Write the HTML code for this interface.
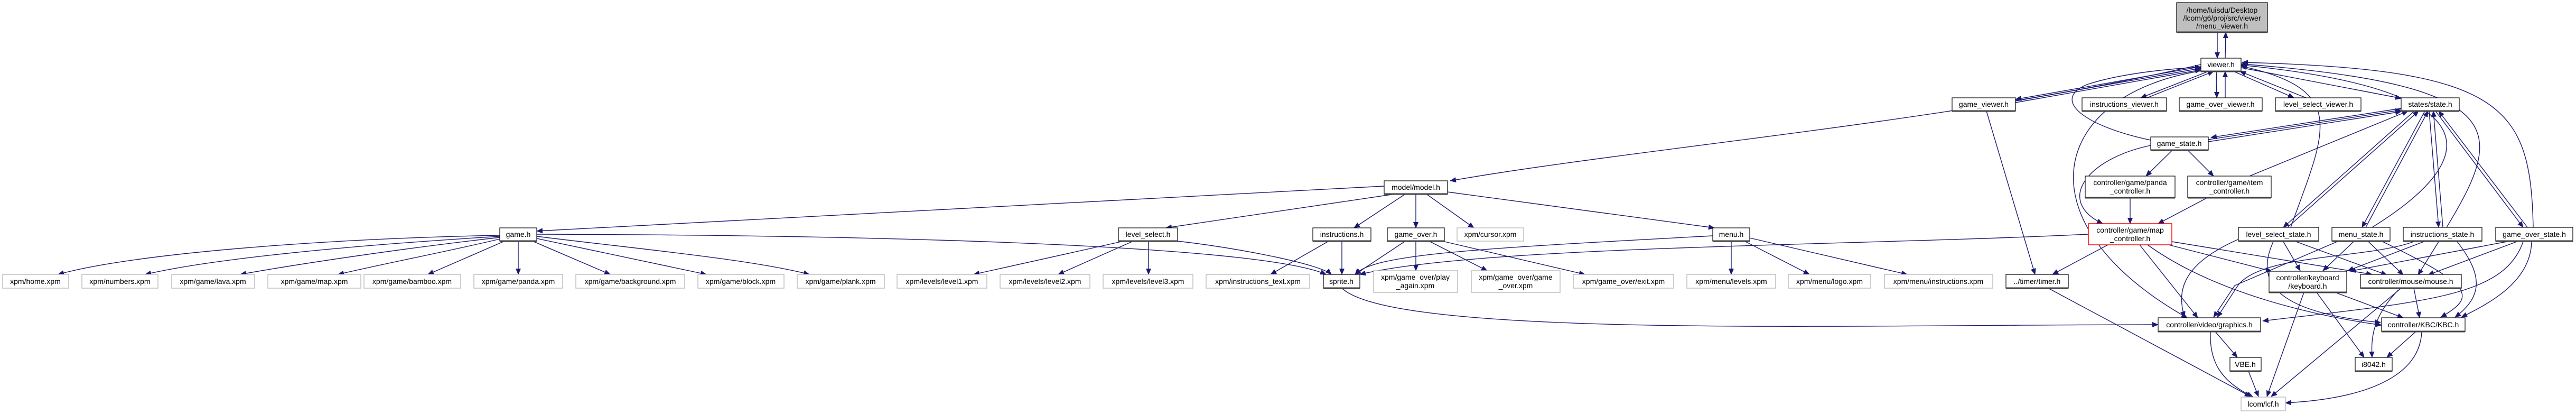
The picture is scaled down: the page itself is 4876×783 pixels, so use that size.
<!DOCTYPE html>
<html><head><meta charset="utf-8"><style>
html,body{margin:0;padding:0;background:#fff;}
svg{display:block;}
text{font-family:"Liberation Sans",sans-serif;font-size:14px;fill:#000;text-anchor:middle;}
.e{fill:none;stroke:#191970;stroke-width:1.4;marker-end:url(#a);}
.n{fill:#fff;stroke:#000;stroke-width:1.2;}
.g{fill:#fff;stroke:#bfbfbf;stroke-width:1.5;}
.r{fill:#fff;stroke:#ff0000;stroke-width:1.5;}
.s{stroke:#404040;stroke-width:3;}
</style></head><body>
<svg width="4876" height="783" viewBox="0 0 4876 783" xmlns="http://www.w3.org/2000/svg">
<defs><marker id="a" markerWidth="12" markerHeight="10" refX="11" refY="5" orient="auto" markerUnits="userSpaceOnUse"><path d="M0,0 L12,5 L0,10 z" fill="#191970"/></marker></defs>

<!-- edges -->
<path class="e" d="M4197,61 L4197,110"/>
<path class="e" d="M4212,110 L4213,61"/>
<path class="e" d="M4166,126 L3815,188"/>
<path class="e" d="M3815,191 L4166,129"/>
<path class="e" d="M3815,194 L4166,132"/>
<path class="e" d="M4180,135 L4052,185"/>
<path class="e" d="M4064,185 L4190,135"/>
<path class="e" d="M4196,135 C4194,160 4196,170 4196,185"/>
<path class="e" d="M4212,185 L4212,135"/>
<path class="e" d="M4228,135 L4342,185"/>
<path class="e" d="M4365,185 L4240,135"/>
<path class="e" d="M4242,128 L4545,186"/>
<path class="e" d="M4166,122 C3700,230 3100,280 2745,342"/>
<path class="e" d="M4545,205 L4185,260"/>
<path class="e" d="M4180,264 L4545,208"/>
<path class="e" d="M4180,268 L4545,211"/>
<path class="e" d="M4071,265 C3950,240 3880,190 3950,160 C4010,140 4100,130 4166,127"/>
<path class="e" d="M4112,284 L4062,333"/>
<path class="e" d="M4141,284 L4190,333"/>
<path class="e" d="M4071,275 C3950,300 3890,380 3980,423"/>
<path class="e" d="M4258,333 L4558,210"/>
<path class="e" d="M4032,374 L4032,423"/>
<path class="e" d="M4178,374 L4085,423"/>
<path class="e" d="M3760,210 L3852,519"/>
<path class="e" d="M4166,134 C3880,180 3820,420 4140,601"/>
<path class="e" d="M3953,443 C3500,465 2800,465 2574,519"/>
<path class="e" d="M3990,463 L3885,519"/>
<path class="e" d="M4050,463 L4160,601"/>
<path class="e" d="M4065,463 C4200,560 4400,600 4508,615"/>
<path class="e" d="M4105,463 L4300,513"/>
<path class="e" d="M4111,457 L4490,519"/>
<!-- states -->
<path class="e" d="M4570,210 L4322,430"/>
<path class="e" d="M4330,430 L4578,210"/>
<path class="e" d="M4336,430 C4400,250 4450,170 4242,125"/>
<path class="e" d="M4590,210 L4471,430"/>
<path class="e" d="M4478,430 L4596,210"/>
<path class="e" d="M4490,430 C4700,300 4720,170 4242,123"/>
<path class="e" d="M4598,210 L4616,430"/>
<path class="e" d="M4624,430 L4606,210"/>
<path class="e" d="M4631,430 C4740,250 4760,160 4242,121"/>
<path class="e" d="M4610,210 L4776,430"/>
<path class="e" d="M4784,430 L4616,210"/>
<path class="e" d="M4795,430 C4790,200 4740,130 4244,118"/>
<path class="e" d="M4236,453 C4130,500 4120,550 4135,600"/>
<path class="e" d="M4322,457 L4354,512"/>
<path class="e" d="M4346,457 L4518,520"/>
<path class="e" d="M4303,457 C4270,530 4300,590 4506,610"/>
<path class="e" d="M4424,457 L4230,540 L4190,600"/>
<path class="e" d="M4455,457 L4397,512"/>
<path class="e" d="M4483,457 L4549,520"/>
<path class="e" d="M4510,457 C4680,540 4690,560 4620,600"/>
<path class="e" d="M4569,457 C4480,490 4280,480 4236,540 L4197,600"/>
<path class="e" d="M4588,457 L4444,512"/>
<path class="e" d="M4616,457 L4577,520"/>
<path class="e" d="M4651,457 C4700,520 4700,560 4647,600"/>
<path class="e" d="M4776,457 C4740,560 4600,570 4283,607"/>
<path class="e" d="M4745,457 L4448,513"/>
<path class="e" d="M4764,457 L4596,520"/>
<path class="e" d="M4792,457 C4790,530 4720,570 4659,600"/>
<!-- lower -->
<path class="e" d="M4361,553 L4291,750"/>
<path class="e" d="M4385,553 L4475,676"/>
<path class="e" d="M4420,553 L4549,601"/>
<path class="e" d="M4545,545 L4299,750"/>
<path class="e" d="M4540,548 C4490,600 4488,640 4490,676"/>
<path class="e" d="M4569,545 L4580,601"/>
<path class="e" d="M4193,627 L4235,676"/>
<path class="e" d="M4184,627 C4182,680 4200,720 4264,750"/>
<path class="e" d="M4256,702 L4275,750"/>
<path class="e" d="M4573,627 L4518,676"/>
<path class="e" d="M4584,627 C4580,720 4460,755 4326,762"/>
<path class="e" d="M3877,545 L4260,750"/>
<path class="e" d="M2540,545 C2640,640 3500,614 4085,614"/>
<!-- model -->
<path class="e" d="M2620,352 L1016,437"/>
<path class="e" d="M2640,367 L2207,431"/>
<path class="e" d="M2660,367 L2563,431"/>
<path class="e" d="M2680,367 L2680,431"/>
<path class="e" d="M2700,367 L2790,431"/>
<path class="e" d="M2740,363 L3245,431"/>
<!-- game.h -->
<path class="e" d="M946,445 C600,452 250,480 110,519"/>
<path class="e" d="M946,447 C650,465 400,490 275,519"/>
<path class="e" d="M946,449 C760,470 560,500 455,519"/>
<path class="e" d="M946,452 C850,475 720,500 640,519"/>
<path class="e" d="M955,456 L810,519"/>
<path class="e" d="M981,456 L981,519"/>
<path class="e" d="M1008,456 L1155,519"/>
<path class="e" d="M1016,451 L1337,519"/>
<path class="e" d="M1016,447 C1200,470 1420,490 1532,519"/>
<path class="e" d="M1016,443 C1800,445 2400,470 2510,519"/>
<path class="e" d="M2127,456 L1843,519"/>
<path class="e" d="M2145,456 L2003,519"/>
<path class="e" d="M2174,456 L2174,519"/>
<path class="e" d="M2229,456 C2350,470 2500,500 2520,519"/>
<path class="e" d="M2515,456 L2405,519"/>
<path class="e" d="M2540,456 L2540,519"/>
<path class="e" d="M2660,456 L2565,519"/>
<path class="e" d="M2680,456 L2680,512"/>
<path class="e" d="M2705,456 L2815,512"/>
<path class="e" d="M2730,456 L3000,519"/>
<path class="e" d="M3242,446 C2800,470 2600,480 2565,519"/>
<path class="e" d="M3277,456 L3277,519"/>
<path class="e" d="M3302,456 L3425,519"/>
<path class="e" d="M3312,450 L3610,519"/>

<!-- nodes -->
<rect x="4120" y="5" width="172" height="56" fill="#bfbfbf" stroke="#000" stroke-width="1.2"/><line class="s" x1="4120" y1="61" x2="4292" y2="61"/>
<text x="4206" y="24">/home/luisdu/Desktop</text><text x="4206" y="39">/lcom/g6/proj/src/viewer</text><text x="4206" y="54">/menu_viewer.h</text>

<rect class="n" x="4166" y="110" width="76" height="25"/><line class="s" x1="4166" y1="135" x2="4242" y2="135"/><text x="4204" y="127">viewer.h</text>
<rect class="n" x="3695" y="185" width="120" height="25"/><line class="s" x1="3695" y1="210" x2="3815" y2="210"/><text x="3755" y="202">game_viewer.h</text>
<rect class="n" x="3941" y="185" width="160" height="25"/><line class="s" x1="3941" y1="210" x2="4101" y2="210"/><text x="4021" y="202">instructions_viewer.h</text>
<rect class="n" x="4125" y="185" width="157" height="25"/><line class="s" x1="4125" y1="210" x2="4282" y2="210"/><text x="4203" y="202">game_over_viewer.h</text>
<rect class="n" x="4307" y="185" width="162" height="25"/><line class="s" x1="4307" y1="210" x2="4469" y2="210"/><text x="4388" y="202">level_select_viewer.h</text>
<rect class="n" x="4545" y="185" width="110" height="25"/><line class="s" x1="4545" y1="210" x2="4655" y2="210"/><text x="4600" y="202">states/state.h</text>
<rect class="n" x="4071" y="259" width="109" height="25"/><line class="s" x1="4071" y1="284" x2="4180" y2="284"/><text x="4125" y="276">game_state.h</text>
<rect class="n" x="3947" y="333" width="170" height="41"/><line class="s" x1="3947" y1="374" x2="4117" y2="374"/><text x="4032" y="350">controller/game/panda</text><text x="4032" y="366">_controller.h</text>
<rect class="n" x="4141" y="333" width="158" height="41"/><line class="s" x1="4141" y1="374" x2="4299" y2="374"/><text x="4220" y="350">controller/game/item</text><text x="4220" y="366">_controller.h</text>
<rect class="r" x="3953" y="423" width="158" height="40"/><text x="4032" y="440">controller/game/map</text><text x="4032" y="456">_controller.h</text>
<rect class="n" x="4237" y="430" width="152" height="26"/><line class="s" x1="4237" y1="456" x2="4389" y2="456"/><text x="4313" y="448">level_select_state.h</text>
<rect class="n" x="4414" y="430" width="110" height="26"/><line class="s" x1="4414" y1="456" x2="4524" y2="456"/><text x="4469" y="448">menu_state.h</text>
<rect class="n" x="4549" y="430" width="149" height="26"/><line class="s" x1="4549" y1="456" x2="4698" y2="456"/><text x="4623" y="448">instructions_state.h</text>
<rect class="n" x="4724" y="430" width="146" height="26"/><line class="s" x1="4724" y1="456" x2="4870" y2="456"/><text x="4797" y="448">game_over_state.h</text>

<rect class="n" x="2620" y="342" width="120" height="25"/><line class="s" x1="2620" y1="367" x2="2740" y2="367"/><text x="2680" y="359">model/model.h</text>
<rect class="n" x="946" y="431" width="70" height="25"/><line class="s" x1="946" y1="456" x2="1016" y2="456"/><text x="981" y="448">game.h</text>
<rect class="n" x="2117" y="431" width="112" height="25"/><line class="s" x1="2117" y1="456" x2="2229" y2="456"/><text x="2173" y="448">level_select.h</text>
<rect class="n" x="2485" y="431" width="110" height="25"/><line class="s" x1="2485" y1="456" x2="2595" y2="456"/><text x="2540" y="448">instructions.h</text>
<rect class="n" x="2626" y="431" width="108" height="25"/><line class="s" x1="2626" y1="456" x2="2734" y2="456"/><text x="2680" y="448">game_over.h</text>
<rect class="g" x="2758" y="431" width="126" height="25"/><text x="2821" y="448">xpm/cursor.xpm</text>
<rect class="n" x="3242" y="431" width="70" height="25"/><line class="s" x1="3242" y1="456" x2="3312" y2="456"/><text x="3277" y="448">menu.h</text>

<rect class="g" x="5" y="519" width="125" height="26"/><text x="67" y="537">xpm/home.xpm</text>
<rect class="g" x="155" y="519" width="144" height="26"/><text x="227" y="537">xpm/numbers.xpm</text>
<rect class="g" x="325" y="519" width="157" height="26"/><text x="403" y="537">xpm/game/lava.xpm</text>
<rect class="g" x="507" y="519" width="176" height="26"/><text x="595" y="537">xpm/game/map.xpm</text>
<rect class="g" x="689" y="519" width="183" height="26"/><text x="780" y="537">xpm/game/bamboo.xpm</text>
<rect class="g" x="897" y="519" width="168" height="26"/><text x="981" y="537">xpm/game/panda.xpm</text>
<rect class="g" x="1090" y="519" width="206" height="26"/><text x="1193" y="537">xpm/game/background.xpm</text>
<rect class="g" x="1321" y="519" width="163" height="26"/><text x="1402" y="537">xpm/game/block.xpm</text>
<rect class="g" x="1509" y="519" width="165" height="26"/><text x="1591" y="537">xpm/game/plank.xpm</text>
<rect class="g" x="1698" y="519" width="170" height="26"/><text x="1783" y="537">xpm/levels/level1.xpm</text>
<rect class="g" x="1893" y="519" width="170" height="26"/><text x="1978" y="537">xpm/levels/level2.xpm</text>
<rect class="g" x="2088" y="519" width="170" height="26"/><text x="2173" y="537">xpm/levels/level3.xpm</text>
<rect class="g" x="2283" y="519" width="196" height="26"/><text x="2381" y="537">xpm/instructions_text.xpm</text>
<rect class="n" x="2505" y="519" width="69" height="26"/><line class="s" x1="2505" y1="545" x2="2574" y2="545"/><text x="2539" y="537">sprite.h</text>
<rect class="g" x="2600" y="512" width="159" height="41"/><text x="2679" y="529">xpm/game_over/play</text><text x="2679" y="545">_again.xpm</text>
<rect class="g" x="2785" y="512" width="168" height="41"/><text x="2869" y="529">xpm/game_over/game</text><text x="2869" y="545">_over.xpm</text>
<rect class="g" x="2978" y="519" width="190" height="26"/><text x="3073" y="537">xpm/game_over/exit.xpm</text>
<rect class="g" x="3193" y="519" width="168" height="26"/><text x="3277" y="537">xpm/menu/levels.xpm</text>
<rect class="g" x="3385" y="519" width="156" height="26"/><text x="3463" y="537">xpm/menu/logo.xpm</text>
<rect class="g" x="3567" y="519" width="205" height="26"/><text x="3669" y="537">xpm/menu/instructions.xpm</text>
<rect class="n" x="3797" y="519" width="118" height="26"/><line class="s" x1="3797" y1="545" x2="3915" y2="545"/><text x="3856" y="537">../timer/timer.h</text>
<rect class="n" x="4295" y="513" width="147" height="40"/><line class="s" x1="4295" y1="553" x2="4442" y2="553"/><text x="4368" y="530">controller/keyboard</text><text x="4368" y="546">/keyboard.h</text>
<rect class="n" x="4468" y="519" width="191" height="26"/><line class="s" x1="4468" y1="545" x2="4659" y2="545"/><text x="4563" y="537">controller/mouse/mouse.h</text>
<rect class="n" x="4085" y="601" width="194" height="26"/><line class="s" x1="4085" y1="627" x2="4279" y2="627"/><text x="4182" y="619">controller/video/graphics.h</text>
<rect class="n" x="4508" y="601" width="158" height="26"/><line class="s" x1="4508" y1="627" x2="4666" y2="627"/><text x="4587" y="619">controller/KBC/KBC.h</text>
<rect class="n" x="4221" y="676" width="59" height="26"/><line class="s" x1="4221" y1="702" x2="4280" y2="702"/><text x="4250" y="694">VBE.h</text>
<rect class="n" x="4458" y="676" width="70" height="26"/><line class="s" x1="4458" y1="702" x2="4528" y2="702"/><text x="4493" y="694">i8042.h</text>
<rect class="g" x="4242" y="751" width="84" height="26"/><text x="4284" y="769">lcom/lcf.h</text>
</svg>
</body></html>
